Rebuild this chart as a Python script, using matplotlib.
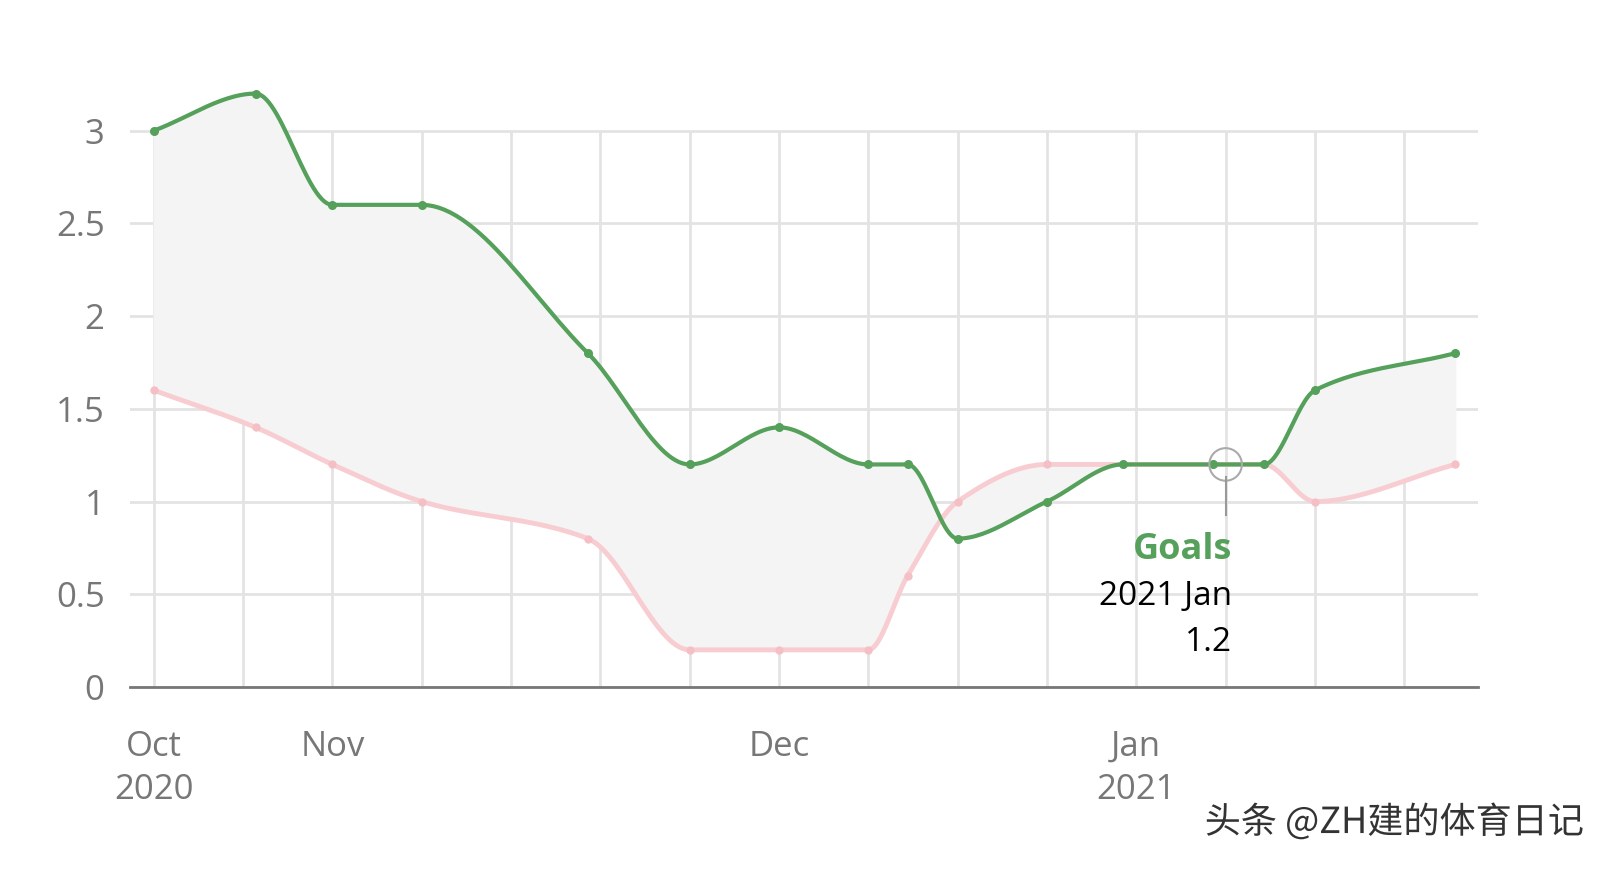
import numpy as np
import matplotlib.pyplot as plt
import matplotlib.patheffects as pe

# data (x in grid-step units, 0 = Oct 2020)
x_pts = [0, 1.14, 2, 3, 4.86, 6, 7, 8, 8.44, 9, 10, 10.85, 11.86, 12.43, 13, 14.57]
goals = [3.0, 3.2, 2.6, 2.6, 1.8, 1.2, 1.4, 1.2, 1.2, 0.8, 1.0, 1.2, 1.2, 1.2, 1.6, 1.8]
conceded = [1.6, 1.4, 1.2, 1.0, 0.8, 0.2, 0.2, 0.2, 0.6, 1.0, 1.2, 1.2, 1.2, 1.2, 1.0, 1.2]
tick_pos = [0, 2, 7, 11]
tick_labels = ['Oct\n2020', 'Nov', 'Dec', 'Jan\n2021']
hover_x, hover_y = 12, 1.2

def monotone(x, y, n=30):
    # monotone cubic (like d3 curveMonotoneX)
    x = np.asarray(x, float); y = np.asarray(y, float)
    h = np.diff(x); d = np.diff(y) / h
    m = np.zeros_like(y)
    m[0], m[-1] = d[0], d[-1]
    for i in range(1, len(y) - 1):
        if d[i-1] * d[i] <= 0:
            m[i] = 0
        else:
            w1 = 2*h[i] + h[i-1]; w2 = h[i] + 2*h[i-1]
            m[i] = (w1 + w2) / (w1/d[i-1] + w2/d[i])
    xs, ys = [], []
    for i in range(len(h)):
        t = np.linspace(0, 1, n)
        h00 = 2*t**3 - 3*t**2 + 1; h10 = t**3 - 2*t**2 + t
        h01 = -2*t**3 + 3*t**2; h11 = t**3 - t**2
        xs.append(x[i] + t*h[i])
        ys.append(h00*y[i] + h10*h[i]*m[i] + h01*y[i+1] + h11*h[i]*m[i+1])
    return np.concatenate(xs), np.concatenate(ys)

fig = plt.figure(figsize=(16, 8.84), dpi=100)
ax = fig.add_axes([0.081, 0.2229, 0.843, 0.709])

gx, gy = monotone(x_pts, goals)
cx, cy = monotone(x_pts, conceded)
ax.fill_between(gx, gy, cy, color='#f4f4f4', zorder=1)
ax.plot(cx, cy, color='#f8cdd1', lw=3.5, zorder=2)
ax.scatter(x_pts, conceded, s=25, color='#f5c0c5', zorder=3)
ax.plot(gx, gy, color='#55a05a', lw=3, zorder=4)
ax.scatter(x_pts, goals, s=30, color='#55a05a', zorder=5)

ax.set_xlim(-0.27, 14.83)
ax.set_ylim(0, 3.38)
ax.set_xticks([])
ax.vlines(np.arange(0, 15), 0, 3, color='#e3e3e3', lw=2, zorder=0)
for p, lab in zip(tick_pos, tick_labels):
    ax.text(p, -0.23, lab, ha='center', va='top', fontsize=25, color='#777777',
            linespacing=1.35, family='Open Sans')
ax.set_yticks([0, 0.5, 1, 1.5, 2, 2.5, 3])
ax.set_yticklabels(['0', '0.5', '1', '1.5', '2', '2.5', '3'], fontsize=25,
                   color='#777777', family='Open Sans')
ax.tick_params(length=0, pad=18)
ax.grid(True, axis='y', color='#e3e3e3', lw=2)
ax.set_axisbelow(True)
for s in ['top', 'right', 'left']:
    ax.spines[s].set_visible(False)
ax.spines['bottom'].set_color('#777777')
ax.spines['bottom'].set_linewidth(2)

# hover tooltip
ax.scatter([hover_x], [hover_y], s=550, facecolor='none', edgecolor='#aaaaaa', lw=1.5, zorder=6)
ax.plot([hover_x, hover_x], [hover_y - 0.07, 0.93], color='#999999', lw=1.5, zorder=6)
ax.text(hover_x + 0.07, 0.74, 'Goals', ha='right', va='center', fontsize=26,
        fontweight='bold', color='#55a05a', family='Open Sans')
ax.text(hover_x + 0.07, 0.49, '2021 Jan', ha='right', va='center', fontsize=24,
        color='black', family='Open Sans')
ax.text(hover_x + 0.07, 0.24, '1.2', ha='right', va='center', fontsize=24,
        color='black', family='Open Sans')

fig.text(0.99, 0.07, '头条 @ZH建的体育日记', ha='right', va='center', fontsize=26,
         color='#333333', family=['Noto Sans CJK SC', 'DejaVu Sans'],
         path_effects=[pe.withStroke(linewidth=3, foreground='white')])

fig.savefig('out.png', dpi=100)
